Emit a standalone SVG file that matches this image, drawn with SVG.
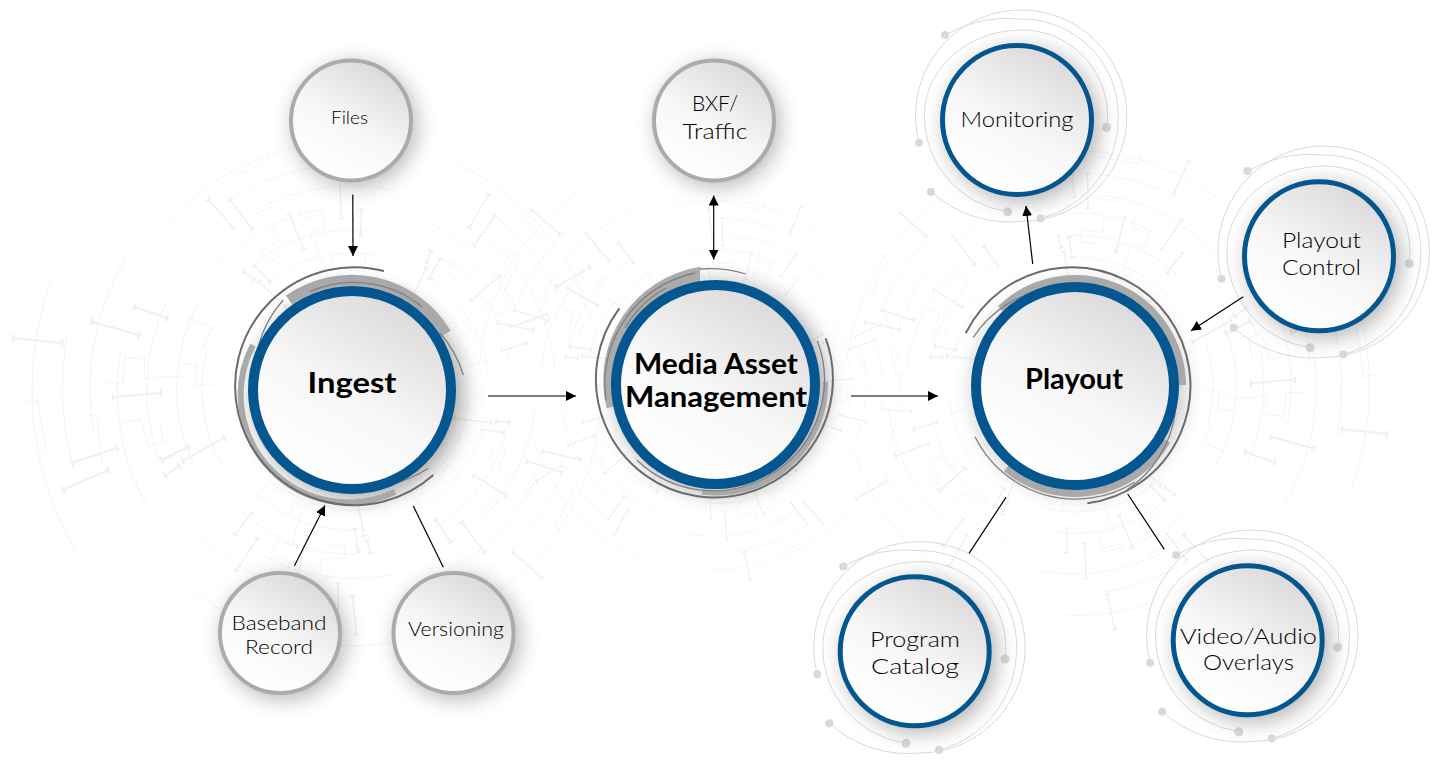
<svg xmlns="http://www.w3.org/2000/svg" width="1434" height="763" viewBox="0 0 1434 763">
<style>
.th{fill:none;stroke:#f0f0f0;stroke-width:2;marker-start:url(#end);marker-end:url(#end)}
.tn{fill:none;stroke:#f3f3f3;stroke-width:1}
.ring{fill:none;stroke:#dadada;stroke-width:1}
.dot{fill:#d9d9d9}
.fill{fill:url(#face)}
.gray{stroke:#ababae;stroke-width:4}
.blue{stroke:#03568f;stroke-width:5}
.big{stroke:#03568f;stroke-width:10}
.sh{fill:#000;filter:url(#blur)}
.band{fill:none;stroke:#a9a9a9}
.ln{fill:none;stroke:#6b6b6b;stroke-width:2}
.ln2{fill:none;stroke:#808080;stroke-width:1.3}
.c{fill:none;stroke:#000;stroke-width:1.2}
.ca{marker-end:url(#ah)}
.cb{marker-start:url(#ahs);marker-end:url(#ah)}
text{font-family:"Lato","Open Sans","Liberation Sans",sans-serif;text-anchor:middle;fill:#000}
.t1{font-size:29px;font-weight:700}
.t2{font-size:22px;font-weight:300}
.t3{font-size:19px;font-weight:300}
.t4{font-size:17px;font-weight:300}
</style>
<defs>
<linearGradient id="face" x1="0.3" y1="0.95" x2="0.8" y2="0.08">
<stop offset="0" stop-color="#ffffff"/><stop offset="0.45" stop-color="#f8f7f7"/><stop offset="1" stop-color="#dbd9da"/>
</linearGradient>
<filter id="blur" x="-30%" y="-30%" width="160%" height="160%"><feGaussianBlur stdDeviation="11"/></filter>
<marker id="end" markerUnits="userSpaceOnUse" markerWidth="10" markerHeight="12" refX="5" refY="6" orient="auto"><ellipse cx="5" cy="6" rx="1.5" ry="4" fill="#f0f0f0"/></marker>
<marker id="ah" markerUnits="userSpaceOnUse" markerWidth="11" markerHeight="11" refX="10" refY="5" orient="auto"><path d="M0 0L10 5L0 10Z" fill="#000"/></marker>
<marker id="ahs" markerUnits="userSpaceOnUse" markerWidth="11" markerHeight="11" refX="0" refY="5" orient="auto"><path d="M10 0L0 5L10 10Z" fill="#000"/></marker>
<g id="motif">
<path class="th" d="M-339-52L-290-47"/><path class="th" d="M-217-83L-185-72"/><path class="th" d="M-260-68L-213-55"/>
<path class="th" d="M-239 7L-191 3"/><path class="th" d="M-280 73L-235 58"/><path class="th" d="M-289 100L-244 80"/>
<path class="th" d="M-190 70L-164 57"/><path class="th" d="M-169 71L-128 48"/><path class="th" d="M-187 85L-173 76"/>
<path class="tn" d="M-285-55A290 290 0 0 0-280 73"/>
<path class="tn" d="M-301-109A320 320 0 0 0-277 160"/>
<path class="tn" d="M-227-131A262 262 0 0 0-258 46"/>
<path class="tn" d="M-231-41A235 235 0 0 0-204 118"/>
<path class="tn" d="M-186-87A205 205 0 0 0-193 70"/>
<path class="tn" d="M-152-88A175 175 0 0 0-159 74"/>
<path class="tn" d="M-145-39A150 150 0 0 0-130 75"/>
<path class="tn" d="M-227-33L-207-31L-208-11L-199-11"/>
<path class="tn" d="M-227-33L-229-7L-246-7"/>
<path class="tn" d="M-199-13L-165-13"/>
<path class="tn" d="M-164-72L-140-62L-149-42"/>
<path class="tn" d="M-172-27L-155-25L-157-5L-140-5"/>
<path class="tn" d="M-229 33L-212 29L-203 57L-188 52L-193 33"/>
<path class="tn" d="M-263 26L-255 25L-250 72"/>
<path class="tn" d="M-329 12L-314 10L-306 63"/>
</g>
<g id="wheel">
<use href="#motif"/>
<use href="#motif" transform="rotate(72) scale(.78)"/>
<use href="#motif" transform="rotate(144) scale(.78)"/>
<use href="#motif" transform="rotate(216) scale(.78)"/>
<use href="#motif" transform="rotate(288) scale(.8)"/>
</g>
<g id="rings">
<path class="ring" d="M-102.7 27A105.7 105.7 0 1 1 0 105.7A118 118 0 0 1-90.7 76"/>
<path class="ring" d="M-76.7-80.7A125 125 0 0 1 0-96.7A96.7 96.7 0 0 1 96.7 0A104 104 0 0 1 19 102.7"/>
<path class="ring" d="M85 11.7A85.7 85.7 0 0 0 0-85.7A97.3 85.7 0 0 0-97.3 0A97 97 0 0 0-14 96"/>
<circle class="dot" cx="-102.7" cy="27" r="4"/><circle class="dot" cx="-90.7" cy="76" r="4"/>
<circle class="dot" cx="-76.7" cy="-80.7" r="4"/><circle class="dot" cx="19" cy="102.7" r="4"/>
<circle class="dot" cx="85" cy="11.7" r="4.5"/><circle class="dot" cx="-14" cy="96" r="4.5"/>
</g>
</defs>
<rect width="1434" height="763" fill="#fff"/>
<g id="background">
<use href="#wheel" transform="translate(352 390)"/>
<use href="#wheel" transform="translate(715 385) rotate(35) scale(.74)"/>
<use href="#wheel" transform="translate(1075 386) rotate(180) scale(.92)"/>
</g>
<g id="node-ingest">
<circle class="sh" cx="358" cy="394" r="104" opacity=".38"/>
<path class="band" stroke-width="11" d="M289 300A110 110 0 0 1 446 333.5"/>
<path class="band" stroke-width="6" d="M253 345A107.5 107.5 0 0 0 395 491.7"/>
<path class="ln" d="M384 271A119 119 0 1 0 433.3 475"/>
<path class="ln2" d="M283.3 300A112 112 0 0 0 428.3 468.3"/>
<path class="ln2" d="M310 291.7A108 108 0 0 1 421.7 306.7"/>
<path class="ln2" stroke-width="1.6" d="M440 333A112 112 0 0 1 463.3 375"/>
<circle class="fill big" cx="352" cy="390" r="99"/>
<text class="t1" x="352" y="393" textLength="89" lengthAdjust="spacingAndGlyphs">Ingest</text>
</g>
<g id="node-mam">
<circle class="sh" cx="721" cy="388" r="104" opacity=".38"/>
<path d="M700 266.7A115 115 0 0 0 606.7 408.3L640 400L700 320Z" fill="#ababab"/>
<path class="ln2" stroke-width="1.6" d="M700 269A118 118 0 0 1 745.7 274"/>
<path class="ln" d="M619.3 308.3A118.5 118.5 0 1 0 825.7 338.3"/>
<path class="band" stroke-width="5" d="M825.5 382A109 109 0 0 1 702 492"/>
<path class="ln2" stroke-width="1.6" d="M817.3 340.7A111 111 0 0 1 636.7 460"/>
<path class="ln2" stroke-width="1.6" d="M695 273A113 113 0 0 0 606 400"/>
<path class="ln2" d="M666 288A106 106 0 0 0 625 328"/>
<circle class="fill big" cx="715.5" cy="384.5" r="99.5"/>
<text class="t1" x="716" y="374" textLength="164" lengthAdjust="spacingAndGlyphs">Media Asset</text>
<text class="t1" x="716" y="407" textLength="182" lengthAdjust="spacingAndGlyphs">Management</text>
</g>
<g id="node-playout">
<circle class="sh" cx="1079" cy="389" r="104" opacity=".25"/>
<path class="band" stroke-width="8" d="M1000.7 309.1A107 107 0 0 1 1182 385"/>
<path class="band" stroke-width="8" d="M1006.5 468.2A107 107 0 0 0 1166.8 440.8"/>
<path class="ln" d="M965.7 333.3A118.5 118.5 0 1 1 1087.3 503.3"/>
<path class="ln2" stroke-width="1.6" d="M973.3 337.3A110.5 110.5 0 1 1 1126.7 490"/>
<path class="ln2" stroke-width="1.6" d="M975 436.7A112 112 0 0 0 1135 482"/>
<circle class="fill big" cx="1075" cy="386" r="99"/>
<text class="t1" x="1074" y="389" textLength="98" lengthAdjust="spacingAndGlyphs">Playout</text>
</g>
<g id="node-files">
<circle class="sh" cx="355" cy="125" r="61" opacity=".3"/>
<circle class="fill gray" cx="351" cy="120.5" r="60"/>
<text class="t4" x="349.5" y="124" textLength="37" lengthAdjust="spacingAndGlyphs">Files</text>
</g>
<g id="node-bxf">
<circle class="sh" cx="718" cy="125" r="61" opacity=".3"/>
<circle class="fill gray" cx="714" cy="120.5" r="60"/>
<text class="t2" x="715" y="111" textLength="46" lengthAdjust="spacingAndGlyphs">BXF/</text>
<text class="t2" x="715" y="139" textLength="65" lengthAdjust="spacingAndGlyphs">Traffic</text>
</g>
<g id="node-baseband">
<circle class="sh" cx="284" cy="638" r="61" opacity=".3"/>
<circle class="fill gray" cx="280" cy="633" r="60"/>
<text class="t3" x="279" y="630" textLength="95" lengthAdjust="spacingAndGlyphs">Baseband</text>
<text class="t3" x="279" y="654" textLength="68" lengthAdjust="spacingAndGlyphs">Record</text>
</g>
<g id="node-versioning">
<circle class="sh" cx="458" cy="638" r="61" opacity=".3"/>
<circle class="fill gray" cx="453.5" cy="633" r="60"/>
<text class="t3" x="456" y="636" textLength="96" lengthAdjust="spacingAndGlyphs">Versioning</text>
</g>
<g id="node-monitoring">
<use href="#rings" transform="translate(1021.7 115.7)"/>
<circle class="sh" cx="1022" cy="125" r="76" opacity=".32"/>
<circle class="fill blue" cx="1017" cy="120" r="74.5"/>
<text class="t2" x="1017" y="127" textLength="113" lengthAdjust="spacingAndGlyphs">Monitoring</text>
</g>
<g id="node-control">
<use href="#rings" transform="translate(1324.2 251.7)"/>
<circle class="sh" cx="1324" cy="261" r="76" opacity=".32"/>
<circle class="fill blue" cx="1319" cy="256.3" r="74.5"/>
<text class="t2" x="1321.5" y="248" textLength="79" lengthAdjust="spacingAndGlyphs">Playout</text>
<text class="t2" x="1321.5" y="275" textLength="79" lengthAdjust="spacingAndGlyphs">Control</text>
</g>
<g id="node-catalog">
<use href="#rings" transform="translate(920 647.3)"/>
<circle class="sh" cx="920" cy="656" r="76" opacity=".32"/>
<circle class="fill blue" cx="914.7" cy="651.3" r="74.5"/>
<text class="t2" x="915" y="647" textLength="90" lengthAdjust="spacingAndGlyphs">Program</text>
<text class="t2" x="915" y="674" textLength="88" lengthAdjust="spacingAndGlyphs">Catalog</text>
</g>
<g id="node-overlays">
<use href="#rings" transform="translate(1252.8 635.7)"/>
<circle class="sh" cx="1253" cy="645" r="76" opacity=".32"/>
<circle class="fill blue" cx="1247.7" cy="640.3" r="74.5"/>
<text class="t2" x="1248.5" y="644" textLength="137" lengthAdjust="spacingAndGlyphs">Video/Audio</text>
<text class="t2" x="1248.5" y="670" textLength="91" lengthAdjust="spacingAndGlyphs">Overlays</text>
</g>
<g id="connectors">
<path class="c ca" d="M352.8 194.5L353 256"/>
<path class="c cb" d="M713.7 195.5V259.5"/>
<path class="c ca" d="M294.3 566L325 505.5"/>
<path class="c" d="M413.3 506L443.3 567.3"/>
<path class="c ca" d="M488 396H576"/>
<path class="c ca" d="M851 396H938"/>
<path class="c ca" d="M1032.7 264L1026 206"/>
<path class="c ca" d="M1243.3 296.7L1191 330.7"/>
<path class="c" d="M1006 497.3L969 553.3"/>
<path class="c" d="M1127.7 494L1164.3 549.3"/>
</g>
</svg>
